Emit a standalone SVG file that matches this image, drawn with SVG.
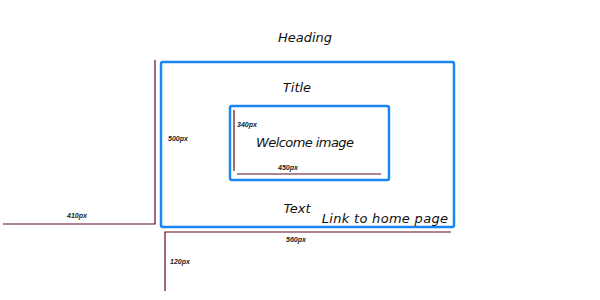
<svg xmlns="http://www.w3.org/2000/svg" width="600" height="300" viewBox="0 0 600 300">
  <style>
    .box { fill: none; stroke: #1a86f2; stroke-width: 2.5; }
    .dim { stroke: #5e0a28; stroke-width: 1.2; fill: none; }
    .lbl { font-family: "DejaVu Sans", sans-serif; font-style: italic; font-size: 13px; fill: #111; text-anchor: middle; }
    .px { font-family: "Liberation Sans", sans-serif; font-style: italic; font-weight: bold; font-size: 7px; fill: #222; text-anchor: middle; }
  </style>
  <rect width="600" height="300" fill="#ffffff"/>

  <text class="lbl" x="305" y="42">Heading</text>

  <g id="page">
    <rect class="box" x="161" y="62" width="293" height="165" rx="2"/>
    <text class="lbl" x="297" y="92">Title</text>
    <text class="lbl" x="297" y="213">Text</text>
    <text class="lbl" x="385" y="223" letter-spacing="0.3">Link to home page</text>
  </g>

  <g id="welcome">
    <rect class="box" x="230" y="106" width="159" height="74" rx="2"/>
    <text class="lbl" x="305" y="147" textLength="98" lengthAdjust="spacing">Welcome image</text>
  </g>

  <g id="connectors">
    <polyline class="dim" points="155,60 155,224 3,224"/>
    <polyline class="dim" points="451,232 165,232 165,291"/>
    <line class="dim" x1="234" y1="110" x2="234" y2="171"/>
    <line class="dim" x1="237" y1="174" x2="381" y2="174"/>
  </g>

  <g id="dimensions">
    <text class="px" x="77" y="218">410px</text>
    <text class="px" x="178" y="141">500px</text>
    <text class="px" x="296" y="242">560px</text>
    <text class="px" x="180" y="264">120px</text>
    <text class="px" x="247" y="127">340px</text>
    <text class="px" x="288" y="170">450px</text>
  </g>
</svg>
